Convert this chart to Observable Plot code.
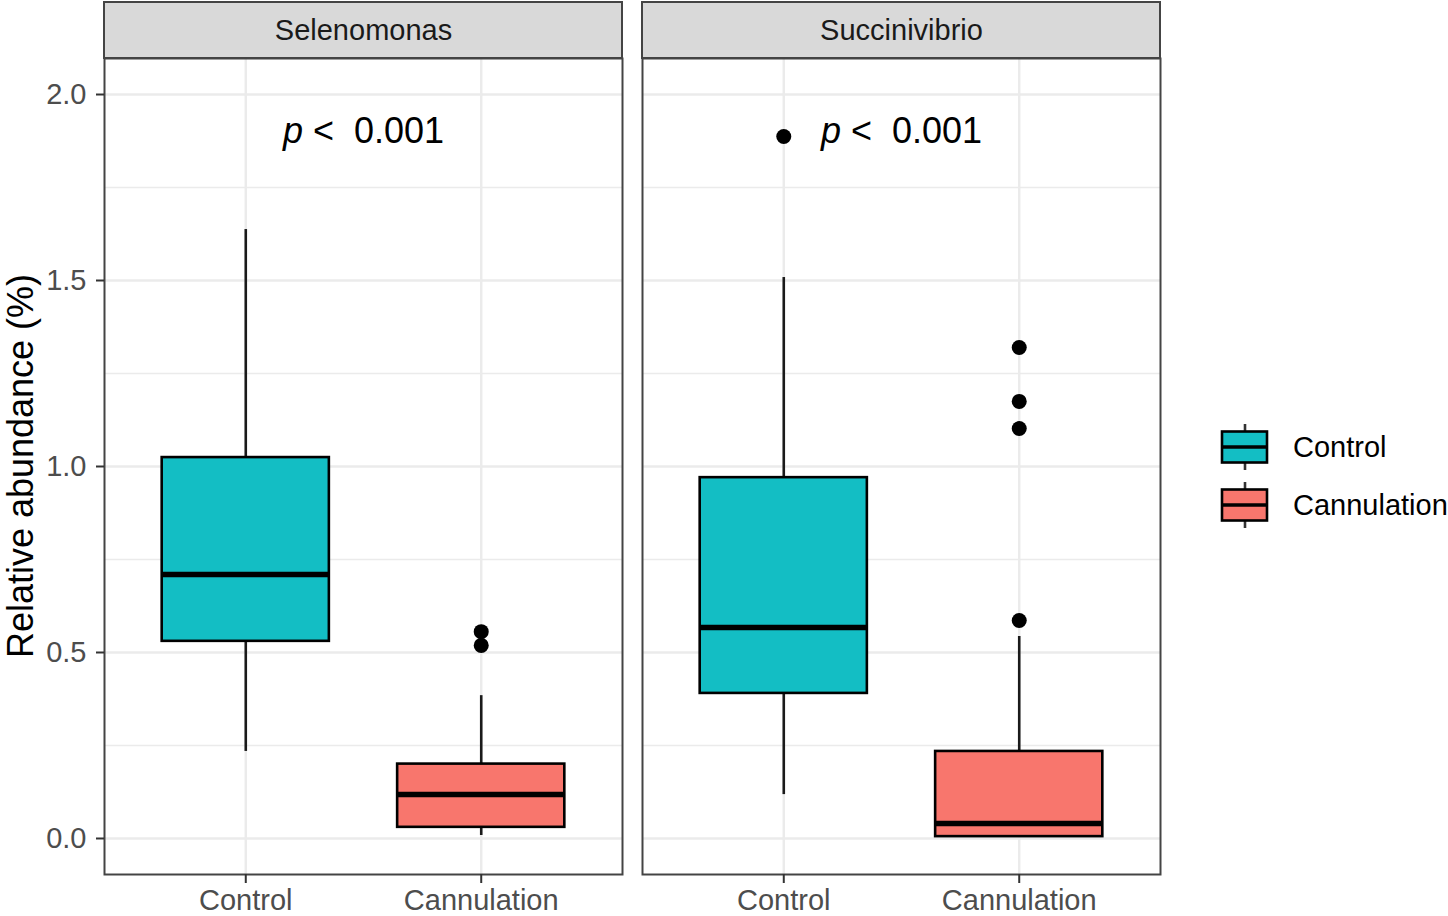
<!DOCTYPE html>
<html><head><meta charset="utf-8">
<script src="https://cdn.jsdelivr.net/npm/d3@7"></script>
<script src="https://cdn.jsdelivr.net/npm/@observablehq/plot@0.6"></script>
<style>
body{margin:0;background:#fff;font-family:"Liberation Sans",Arial,Helvetica,sans-serif;}
#wrap{position:relative;width:1448px;height:916px;overflow:hidden;background:#fff;}
#ytitle{position:absolute;left:21px;top:466px;transform:translate(-50%,-50%) rotate(-90deg);white-space:nowrap;font-size:36px;line-height:1;color:#000;}
#legend{position:absolute;left:1210px;top:415px;}
</style></head><body><div id="wrap"></div>
<script>
// ---- data ----
const facets = ["Selenomonas", "Succinivibrio"];
const groups = ["Control", "Cannulation"];
const groupColors = ["#13BEC4", "#F8766D"];

const boxFacet = ["Selenomonas", "Selenomonas", "Succinivibrio", "Succinivibrio"];
const boxGroup = ["Control", "Cannulation", "Control", "Cannulation"];
const whiskerLow  = [0.234, 0.008, 0.118, 0.004];
const q1          = [0.530, 0.030, 0.390, 0.005];
const median      = [0.710, 0.118, 0.567, 0.040];
const q3          = [1.024, 0.200, 0.970, 0.234];
const whiskerHigh = [1.637, 0.384, 1.508, 0.543];

const outlierFacet = ["Selenomonas", "Selenomonas", "Succinivibrio", "Succinivibrio", "Succinivibrio", "Succinivibrio", "Succinivibrio"];
const outlierGroup = ["Cannulation", "Cannulation", "Control", "Cannulation", "Cannulation", "Cannulation", "Cannulation"];
const outlierValue = [0.556, 0.519, 1.887, 1.320, 1.175, 1.102, 0.586];

const pFacet = ["Selenomonas", "Succinivibrio"];
const pText = ["p <  0.001", "p <  0.001"];
const pY = 1.90;

const yTicks = [0.0, 0.5, 1.0, 1.5, 2.0];
const yMinor = [0.25, 0.75, 1.25, 1.75];
const yDomain = [-0.0968, 2.0968];
const xDomain = [0.4, 2.6];
const yTitle = "Relative abundance (%)";

// ---- build tables ----
const pos = g => groups.indexOf(g) + 1;
const rows = boxFacet.map((f, i) => ({facet: f, group: boxGroup[i], pos: pos(boxGroup[i]),
  lo: whiskerLow[i], q1: q1[i], med: median[i], q3: q3[i], hi: whiskerHigh[i]}));
const outliers = outlierFacet.map((f, i) => ({facet: f, pos: pos(outlierGroup[i]), value: outlierValue[i]}));
const pRows = pFacet.map((f, i) => ({facet: f, text: pText[i]}));
const stripSpan = (yDomain[1] - yDomain[0]) * 56 / 816;
const strips = facets.map(f => ({facet: f, y1: yDomain[1], y2: yDomain[1] + stripSpan}));
const hw = 0.355;
const font = '"Liberation Sans", Arial, Helvetica, sans-serif';

const chart = Plot.plot({
  width: 1448, height: 916,
  marginLeft: 104, marginRight: 287, marginTop: 58, marginBottom: 42,
  style: {fontFamily: font, background: "white", overflow: "visible"},
  fx: {domain: facets, paddingInner: 20 / 538.5, paddingOuter: 0, axis: null},
  x: {domain: xDomain, axis: null},
  y: {domain: yDomain, axis: null},
  color: {domain: groups, range: groupColors},
  marks: [
    Plot.gridY(yMinor, {stroke: "#ebebeb", strokeOpacity: 1, strokeWidth: 1.3}),
    Plot.gridY(yTicks, {stroke: "#ebebeb", strokeOpacity: 1, strokeWidth: 2.4}),
    Plot.gridX([1, 2], {stroke: "#ebebeb", strokeOpacity: 1, strokeWidth: 2.4}),
    Plot.ruleX(rows, {fx: "facet", x: "pos", y1: "lo", y2: "q1", stroke: "#1a1a1a", strokeWidth: 2.6}),
    Plot.ruleX(rows, {fx: "facet", x: "pos", y1: "q3", y2: "hi", stroke: "#1a1a1a", strokeWidth: 2.6}),
    Plot.rect(rows, {fx: "facet", x1: d => d.pos - hw, x2: d => d.pos + hw, y1: "q1", y2: "q3", fill: "group", stroke: "#000", strokeWidth: 2.6}),
    Plot.ruleY(rows, {fx: "facet", x1: d => d.pos - hw, x2: d => d.pos + hw, y: "med", stroke: "#000", strokeWidth: 5.5}),
    Plot.dot(outliers, {fx: "facet", x: "pos", y: "value", r: 7.5, fill: "#000", stroke: null}),
    Plot.text(pRows, {fx: "facet", x: (xDomain[0] + xDomain[1]) / 2, y: pY, text: "text", fontSize: 36, fill: "#000"}),
    Plot.frame({stroke: "#444", strokeWidth: 2}),
    Plot.rect(strips, {fx: "facet", x1: xDomain[0], x2: xDomain[1], y1: "y1", y2: "y2", fill: "#d9d9d9", stroke: "#444", strokeWidth: 2}),
    Plot.text(strips, {fx: "facet", x: (xDomain[0] + xDomain[1]) / 2, y: d => (d.y1 + d.y2) / 2, text: "facet", fontSize: 29, fill: "#1a1a1a"}),
    Plot.axisY({ticks: yTicks, tickFormat: d3.format(".1f"), tickSize: 8, tickPadding: 10, fontSize: 29, fill: "#4d4d4d", stroke: "#333", strokeWidth: 2, label: null}),
    Plot.axisX({ticks: [1, 2], tickFormat: d => groups[d - 1], tickSize: 9, tickPadding: 6, fontSize: 29, fill: "#4d4d4d", stroke: "#333", strokeWidth: 2, label: null})
  ]
});

const wrap = document.getElementById("wrap");
wrap.appendChild(chart);

// italic "p" in p-value labels
d3.select(chart).selectAll("text").each(function() {
  const t = this.textContent;
  if (pText.includes(t)) {
    const sel = d3.select(this).text(null).style("white-space", "pre");
    sel.append("tspan").attr("font-style", "italic").text(t.slice(0, 1));
    sel.append("tspan").text(t.slice(1));
  }
});

// y title
const yt = document.createElement("div");
yt.id = "ytitle"; yt.textContent = yTitle;
wrap.appendChild(yt);

// legend
const lg = d3.select(wrap).append("svg").attr("id", "legend").attr("width", 238).attr("height", 120)
  .style("font-family", font);
groups.forEach((g, i) => {
  const cy = 32 + i * 58;
  const k = lg.append("g");
  k.append("line").attr("x1", 35).attr("x2", 35).attr("y1", cy - 23).attr("y2", cy + 23).attr("stroke", "#333").attr("stroke-width", 2.6);
  k.append("rect").attr("x", 12).attr("y", cy - 15.5).attr("width", 45).attr("height", 31)
    .attr("fill", groupColors[i]).attr("stroke", "#000").attr("stroke-width", 2.6);
  k.append("line").attr("x1", 12).attr("x2", 57).attr("y1", cy).attr("y2", cy).attr("stroke", "#000").attr("stroke-width", 3.5);
  lg.append("text").attr("x", 83).attr("y", cy).attr("dy", "0.35em").attr("font-size", 29).attr("fill", "#000").text(g);
});
</script></body></html>
